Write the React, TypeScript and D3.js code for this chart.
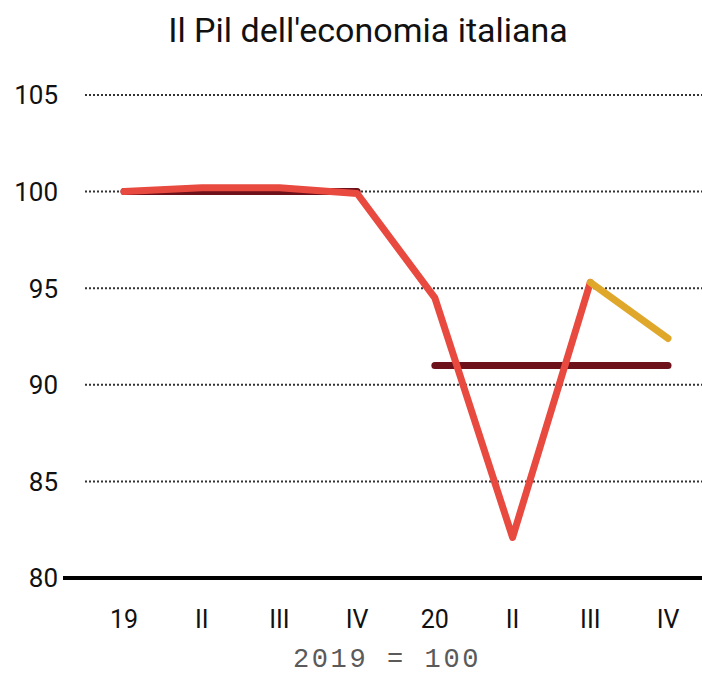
import React from 'react';
import * as d3 from 'd3';

const quarters = ['19', 'II', 'III', 'IV', '20', 'II', 'III', 'IV'];
const gdp = [100, 100.2, 100.2, 99.9, 94.5, 82.1, 95.3];
const forecast = [null, null, null, null, null, null, 95.3, 92.4];
const avg2019 = [100, 100, 100, 100, null, null, null, null];
const avg2020 = [null, null, null, null, 91, 91, 91, 91];
const yTicks = [80, 85, 90, 95, 100, 105];

const W = 702;
const H = 676;

export default function App() {
  const x = d3.scalePoint<number>().domain(d3.range(quarters.length)).range([124, 668]);
  const y = d3.scaleLinear().domain([80, 105]).range([578, 95]);

  const line = d3
    .line<number | null>()
    .defined((d) => d != null)
    .x((_, i) => x(i) as number)
    .y((d) => y(d as number));

  const series = [
    { data: avg2019, color: '#6d111b' },
    { data: avg2020, color: '#6d111b' },
    { data: gdp, color: '#e84a3f' },
    { data: forecast, color: '#e0a82b' },
  ];

  return (
    <svg width={W} height={H} style={{ position: 'absolute', left: 0, top: 0, background: '#fff' }}>
      <text x={368} y={42} textAnchor="middle" fontFamily="Roboto" fontSize={34} fill="#111">
        Il Pil dell'economia italiana
      </text>

      {yTicks.map((t) => (
        <g key={t}>
          {t !== 80 && (
            <line x1={85} x2={702} y1={y(t)} y2={y(t)} stroke="#333" strokeWidth={2} strokeDasharray="2,2" />
          )}
          <text x={58} y={y(t)} dy="0.36em" textAnchor="end" fontFamily="Roboto" fontSize={26} fill="#111">
            {t}
          </text>
        </g>
      ))}

      {series.map((s, i) => (
        <path
          key={i}
          d={line(s.data as (number | null)[]) || ''}
          fill="none"
          stroke={s.color}
          strokeWidth={7}
          strokeLinecap="round"
          strokeLinejoin="round"
        />
      ))}

      <line x1={63} x2={702} y1={y(80)} y2={y(80)} stroke="#000" strokeWidth={4} />

      {quarters.map((q, i) => (
        <text key={i} x={x(i)} y={628} textAnchor="middle" fontFamily="Roboto" fontSize={25} fill="#111">
          {q}
        </text>
      ))}

      <text x={387} y={667} textAnchor="middle" fontFamily="Liberation Mono" fontSize={27} letterSpacing={2.6} fill="#5a5a5a">
        2019 = 100
      </text>
    </svg>
  );
}
